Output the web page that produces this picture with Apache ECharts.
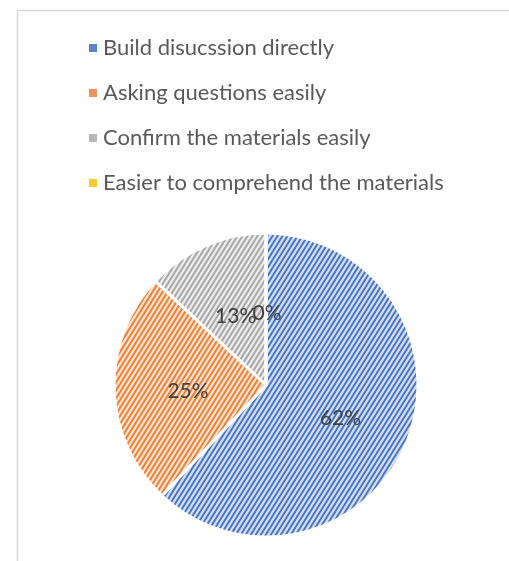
<!DOCTYPE html>
<html>
<head>
<meta charset="utf-8">
<script src="https://cdn.jsdelivr.net/npm/echarts@6/dist/echarts.min.js"></script>
<style>
  html, body { margin: 0; padding: 0; background: #fff; }
  #chart { width: 509px; height: 561px; }
</style>
</head>
<body>
<div id="chart"></div>
<script>
// Survey answers and their shares (percent)
const categories = [
  'Build disucssion directly',
  'Asking questions easily',
  'Confirm the materials easily',
  'Easier to comprehend the materials'
];
const values = [62, 25, 13, 0];

// Fill colours: light background + darker diagonal stripe
const lineColors = ['#4472c4', '#ed7d31', '#a5a5a5', '#ffc000'];
const backColors = ['#d5dff3', '#fbe1cf', '#ececec', '#fff2cc'];
const keyColors = ['#5b84cc', '#f0905a', '#b8b8b8', '#ffc833'];

// Build a repeating "/" stripe tile
function stripeTile(bg, fg) {
  const w = 5, h = 8;
  const c = document.createElement('canvas');
  c.width = w; c.height = h;
  const ctx = c.getContext('2d');
  ctx.fillStyle = bg;
  ctx.fillRect(0, 0, w, h);
  ctx.strokeStyle = fg;
  ctx.lineWidth = 1.9;
  for (let k = -1; k <= 1; k++) {
    ctx.beginPath();
    ctx.moveTo(k * w - w, h * 2);
    ctx.lineTo(k * w + 2 * w, -h);
    ctx.stroke();
  }
  return c;
}

const slices = categories.map((name, i) => ({
  name: name,
  value: values[i],
  itemStyle: {
    color: { image: stripeTile(backColors[i], lineColors[i]), repeat: 'repeat' }
  }
}));

const pieCenter = [266, 385];
const pieRadius = 152;
const labelFont = { fontFamily: 'Lato', fontSize: 21, color: '#404040' };
const labelOffset = [1, 4];

// Empty slices have no sector to carry a label, so their percentage is
// placed at the slice's (zero-width) mid angle, half way out from the centre.
const total = values.reduce((a, b) => a + b, 0);
const emptySliceLabels = [];
let cumulative = 0;
values.forEach((v) => {
  const mid = (cumulative + v / 2) / total * Math.PI * 2;
  cumulative += v;
  if (v !== 0) return;
  const r = pieRadius / 2;
  emptySliceLabels.push({
    type: 'text',
    z: 100,
    silent: true,
    x: pieCenter[0] + Math.sin(mid) * r + labelOffset[0],
    y: pieCenter[1] - Math.cos(mid) * r + labelOffset[1],
    style: {
      text: Math.round(v / total * 100) + '%',
      fontFamily: labelFont.fontFamily,
      fontSize: labelFont.fontSize,
      fill: labelFont.color,
      align: 'center',
      verticalAlign: 'middle'
    }
  });
});

const chart = echarts.init(document.getElementById('chart'), null, { renderer: 'canvas' });
chart.setOption({
  animation: false,
  backgroundColor: '#fff',
  graphic: [{
    type: 'rect',
    shape: { x: 17.5, y: 10.5, width: 600, height: 600 },
    style: { fill: 'none', stroke: '#d9d9d9', lineWidth: 1.5 },
    silent: true
  }].concat(emptySliceLabels),
  legend: {
    orient: 'vertical',
    left: 89,
    top: 36,
    padding: 0,
    itemWidth: 8,
    itemHeight: 8,
    itemGap: 21,
    icon: 'rect',
    textStyle: {
      fontFamily: 'Lato',
      fontSize: 22,
      lineHeight: 24,
      color: '#595959',
      padding: [0, 0, 0, 1]
    },
    data: categories.map((name, i) => ({
      name: name,
      itemStyle: { color: keyColors[i], borderWidth: 0 }
    }))
  },
  series: [{
    type: 'pie',
    center: pieCenter,
    radius: [0, pieRadius],
    startAngle: 90,
    clockwise: true,
    data: slices,
    itemStyle: { borderColor: '#fff', borderWidth: 3 },
    label: {
      show: true,
      position: 'inside',
      offset: labelOffset,
      fontFamily: labelFont.fontFamily,
      fontSize: labelFont.fontSize,
      color: labelFont.color,
      formatter: p => Math.round(p.percent) + '%'
    },
    labelLine: { show: false },
    emphasis: { scale: false }
  }]
});
</script>
</body>
</html>
